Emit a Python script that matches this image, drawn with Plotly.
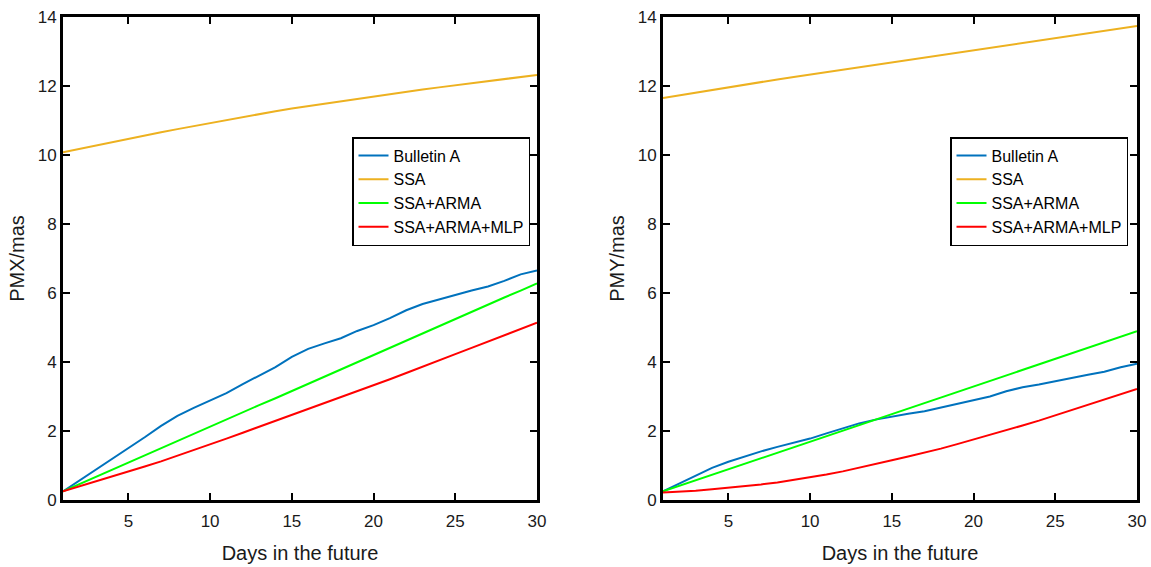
import plotly.graph_objects as go

days = list(range(1, 31))

# Left panel: PMX
pmx_bulletin = [0.25, 0.56, 0.87, 1.18, 1.50, 1.82, 2.15, 2.44, 2.67, 2.88,
                3.10, 3.36, 3.60, 3.85, 4.15, 4.38, 4.54, 4.69, 4.90, 5.07,
                5.27, 5.50, 5.68, 5.82, 5.94, 6.07, 6.19, 6.35, 6.54, 6.65]
pmx_ssa = [10.08, 10.18, 10.28, 10.38, 10.47, 10.56, 10.66, 10.75, 10.84, 10.93,
           11.01, 11.10, 11.18, 11.27, 11.35, 11.42, 11.50, 11.57, 11.64, 11.71,
           11.77, 11.84, 11.90, 11.96, 12.02, 12.08, 12.14, 12.20, 12.26, 12.32]
pmx_ssa_arma = [0.25, 0.46, 0.67, 0.87, 1.08, 1.29, 1.50, 1.71, 1.91, 2.12,
                2.33, 2.54, 2.75, 2.95, 3.16, 3.37, 3.58, 3.79, 3.99, 4.20,
                4.41, 4.62, 4.83, 5.03, 5.24, 5.45, 5.66, 5.87, 6.07, 6.28]
pmx_ssa_arma_mlp = [0.25, 0.39, 0.53, 0.67, 0.82, 0.97, 1.12, 1.28, 1.45, 1.62,
                    1.78, 1.95, 2.12, 2.30, 2.47, 2.64, 2.81, 2.98, 3.14, 3.31,
                    3.50, 3.68, 3.87, 4.05, 4.23, 4.41, 4.59, 4.77, 4.96, 5.14]

# Right panel: PMY
pmy_bulletin = [0.25, 0.47, 0.71, 0.93, 1.11, 1.27, 1.41, 1.54, 1.66, 1.78,
                1.93, 2.08, 2.22, 2.33, 2.42, 2.50, 2.57, 2.68, 2.80, 2.90,
                3.00, 3.15, 3.27, 3.35, 3.45, 3.55, 3.63, 3.72, 3.85, 3.95]
pmy_ssa = [11.65, 11.73, 11.81, 11.88, 11.96, 12.04, 12.11, 12.19, 12.26, 12.33,
           12.41, 12.48, 12.55, 12.62, 12.69, 12.76, 12.83, 12.90, 12.97, 13.04,
           13.11, 13.18, 13.25, 13.32, 13.39, 13.46, 13.53, 13.60, 13.67, 13.74]
pmy_ssa_arma = [0.25, 0.41, 0.57, 0.73, 0.89, 1.05, 1.21, 1.37, 1.53, 1.69,
                1.85, 2.01, 2.17, 2.33, 2.49, 2.65, 2.81, 2.97, 3.13, 3.29,
                3.45, 3.61, 3.77, 3.93, 4.09, 4.25, 4.41, 4.57, 4.73, 4.89]
pmy_ssa_arma_mlp = [0.22, 0.24, 0.27, 0.31, 0.35, 0.40, 0.45, 0.51, 0.58, 0.66,
                    0.74, 0.83, 0.93, 1.04, 1.15, 1.26, 1.37, 1.49, 1.62, 1.75,
                    1.88, 2.02, 2.16, 2.30, 2.45, 2.60, 2.75, 2.90, 3.06, 3.22]

names = ["Bulletin A", "SSA", "SSA+ARMA", "SSA+ARMA+MLP"]
colors = ["#0072BD", "#EDB120", "#00FF00", "#FF0000"]

fig = go.Figure()
left_series = [pmx_bulletin, pmx_ssa, pmx_ssa_arma, pmx_ssa_arma_mlp]
right_series = [pmy_bulletin, pmy_ssa, pmy_ssa_arma, pmy_ssa_arma_mlp]
for name, col, ys in zip(names, colors, left_series):
    fig.add_trace(go.Scatter(x=days, y=ys, mode="lines", name=name,
                             line=dict(color=col, width=2),
                             xaxis="x", yaxis="y", legend="legend"))
for name, col, ys in zip(names, colors, right_series):
    fig.add_trace(go.Scatter(x=days, y=ys, mode="lines", name=name,
                             line=dict(color=col, width=2),
                             xaxis="x2", yaxis="y2", legend="legend2"))

W, H = 1151, 567
font = "Liberation Sans, Arial, sans-serif"
ydom = [1 - 500 / H, 1 - 17 / H]

def xaxis(dom, anchor):
    return dict(domain=dom, anchor=anchor, range=[1, 30], automargin=False,
                tickvals=[5, 10, 15, 20, 25, 30],
                ticks="inside", ticklen=7, tickwidth=2, tickcolor="black",
                showline=True, linecolor="black", linewidth=3, mirror="ticks",
                showgrid=False, zeroline=False, ticklabelstandoff=4,
                tickfont=dict(size=17, color="#1a1a1a", family=font),
                title=dict(text="Days in the future", standoff=16,
                           font=dict(size=20, color="#1a1a1a", family=font)))

def yaxis(anchor, title):
    return dict(domain=ydom, anchor=anchor, range=[0, 14], automargin=False,
                tickvals=[0, 2, 4, 6, 8, 10, 12, 14],
                ticks="inside", ticklen=7, tickwidth=2, tickcolor="black",
                showline=True, linecolor="black", linewidth=3, mirror="ticks",
                showgrid=False, zeroline=False,
                tickfont=dict(size=17, color="#1a1a1a", family=font),
                title=dict(text=title, standoff=8,
                           font=dict(size=20, color="#1a1a1a", family=font)))

legend_style = dict(bgcolor="white", bordercolor="black", borderwidth=1.5,
                    font=dict(size=16, color="black", family=font),
                    xanchor="left", yanchor="top", tracegroupgap=0,
                    itemwidth=30)

fig.update_layout(
    width=W, height=H,
    margin=dict(l=0, r=0, t=0, b=0, autoexpand=False),
    paper_bgcolor="white", plot_bgcolor="white",
    font=dict(family=font),
    xaxis=xaxis([63 / W, 537 / W], "y"),
    yaxis=yaxis("x", "PMX/mas"),
    xaxis2=xaxis([663 / W, 1137 / W], "y2"),
    yaxis2=yaxis("x2", "PMY/mas"),
    legend=dict(x=352 / W, y=1 - 137 / H, **legend_style),
    legend2=dict(x=950 / W, y=1 - 137 / H, **legend_style),
)

fig.write_html("out.html",
               config={"displayModeBar": False},
               post_script="document.body.style.margin='0';"
                           "document.body.style.overflow='hidden';")
